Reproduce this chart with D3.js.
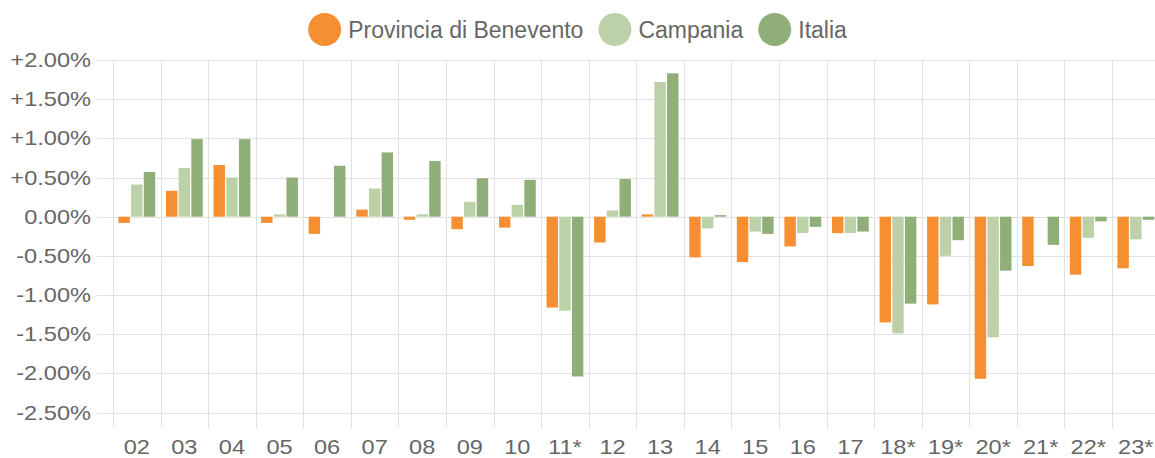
<!DOCTYPE html>
<html>
<head>
<meta charset="utf-8">
<script src="https://cdn.jsdelivr.net/npm/d3@7"></script>
<style>
  html, body { margin: 0; padding: 0; background: #fff; }
  svg { display: block; }
  text { font-family: "Liberation Sans", Arial, sans-serif; fill: #666; }
</style>
</head>
<body>
<svg id="chart" width="1155" height="458"></svg>
<script>
const categories = ["02","03","04","05","06","07","08","09","10","11*","12","13","14","15","16","17","18*","19*","20*","21*","22*","23*"];
const seriesNames = ["Provincia di Benevento", "Campania", "Italia"];
const benevento = [-0.08, 0.33, 0.66, -0.08, -0.22, 0.09, -0.04, -0.16, -0.14, -1.16, -0.33, 0.03, -0.52, -0.58, -0.38, -0.21, -1.35, -1.12, -2.07, -0.63, -0.74, -0.66];
const campania  = [0.41, 0.62, 0.50, 0.03, 0.00, 0.36, 0.03, 0.19, 0.15, -1.20, 0.08, 1.72, -0.15, -0.19, -0.21, -0.21, -1.49, -0.50, -1.54, 0.00, -0.27, -0.29];
const italia    = [0.57, 0.99, 0.99, 0.50, 0.65, 0.82, 0.71, 0.49, 0.47, -2.04, 0.48, 1.83, 0.02, -0.22, -0.13, -0.19, -1.11, -0.30, -0.69, -0.36, -0.06, -0.04];
const yTicks = [2.0, 1.5, 1.0, 0.5, 0.0, -0.5, -1.0, -1.5, -2.0, -2.5];
const colors = ["#f58f31", "#bdd1a9", "#8fae78"];

(function () {
const values = [benevento, campania, italia];
const svg = d3.select("#chart");

const pLeft = 113, pRight = 1159.6, pTop = 60, pBottom = 412.5;
const x0 = d3.scaleBand().domain(categories).range([pLeft, pRight]).paddingInner(0).paddingOuter(0);
const x1 = d3.scaleBand().domain(d3.range(3)).range([0.1 * x0.bandwidth(), 0.9 * x0.bandwidth()]).paddingInner(0.1).paddingOuter(0.05);
const y = d3.scaleLinear().domain([-2.5, 2]).range([pBottom, pTop]);

const fmt = v => (v > 0 ? "+" : "") + v.toFixed(2) + "%";
const sx = 1.18;

const grid = svg.append("g");
grid.selectAll("line.h").data(yTicks).join("line")
  .attr("x1", pLeft - 16).attr("x2", 1155)
  .attr("y1", d => Math.round(y(d)) + 0.5).attr("y2", d => Math.round(y(d)) + 0.5)
  .attr("stroke", "#e1e1e1").attr("stroke-width", 1);
const bounds = categories.map(c => x0(c));
grid.selectAll("line.v").data(bounds).join("line")
  .attr("x1", d => Math.round(d) + 0.5).attr("x2", d => Math.round(d) + 0.5)
  .attr("y1", pTop).attr("y2", pBottom + 16)
  .attr("stroke", "#e1e1e1").attr("stroke-width", 1);

svg.append("g").selectAll("text").data(yTicks).join("text")
  .attr("transform", d => `translate(91,${y(d)}) scale(${sx},1)`)
  .attr("dy", "0.35em")
  .attr("text-anchor", "end").style("font-size", "20px")
  .text(fmt);

svg.append("g").selectAll("text").data(categories).join("text")
  .attr("transform", d => `translate(${x0(d) + x0.bandwidth() / 2},447) scale(${sx},1)`)
  .attr("dy", "0.35em")
  .attr("text-anchor", "middle").style("font-size", "20px")
  .text(d => d);

const barsG = svg.append("g");
values.forEach((arr, si) => {
  barsG.selectAll("rect.s" + si).data(arr).join("rect")
    .attr("class", "s" + si)
    .attr("x", (d, i) => x0(categories[i]) + x1(si))
    .attr("width", x1.bandwidth())
    .attr("y", d => y(Math.max(0, d)))
    .attr("height", d => Math.abs(y(d) - y(0)))
    .attr("fill", colors[si]);
});

const leg = svg.append("g");
const items = [];
seriesNames.forEach((name, i) => {
  const g = leg.append("g");
  g.append("circle").attr("cx", 16.5).attr("cy", 29.5).attr("r", 16.5).attr("fill", colors[i]);
  const t = g.append("text").attr("x", 40).attr("y", 29.5).attr("dy", "0.35em").style("font-size", "23px").text(name);
  const w = 40 + t.node().getComputedTextLength();
  items.push({g, w});
});
const total = d3.sum(items, d => d.w) + 15 * (items.length - 1);
let start = 577.5 - total / 2;
items.forEach(it => { it.g.attr("transform", `translate(${start},0)`); start += it.w + 15; });
})();
</script>
</body>
</html>
